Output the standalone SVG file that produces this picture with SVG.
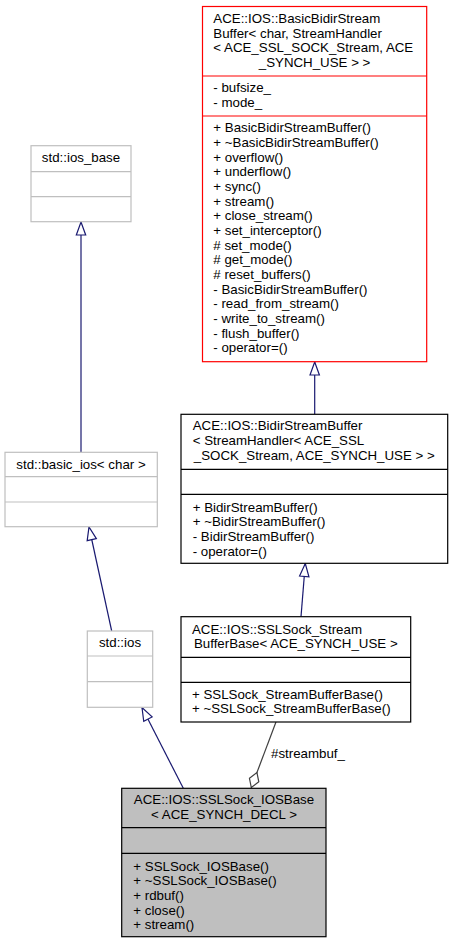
<svg xmlns="http://www.w3.org/2000/svg" width="453" height="944" viewBox="0 0 453 944">
<style>
text{font-family:"Liberation Sans",Arial,Helvetica,sans-serif;font-size:13.3px;fill:#000}
.m{text-anchor:middle}
.box{fill:#fff;stroke:#000;stroke-width:1.2}
.red{fill:#fff;stroke:#ff0000;stroke-width:1.2}
.gray{fill:#fff;stroke:#bfbfbf;stroke-width:1.2}
.cur{fill:#bfbfbf;stroke:#000;stroke-width:1.2}
.sepb{stroke:#000;stroke-width:1.2}
.sepr{stroke:#ff0000;stroke-width:1.2}
.sepg{stroke:#bfbfbf;stroke-width:1.2}
.inh{fill:none;stroke:#191970;stroke-width:1.2;marker-end:url(#tri)}
.agg{fill:none;stroke:#404040;stroke-width:1.2;marker-end:url(#dia)}
</style>
<defs>
<marker id="tri" markerUnits="userSpaceOnUse" markerWidth="16" markerHeight="12" refX="13" refY="6" orient="auto" overflow="visible">
<path d="M0,1.3 L13,6 L0,10.7 z" fill="#fff" stroke="#191970" stroke-width="1.2"/>
</marker>
<marker id="dia" markerUnits="userSpaceOnUse" markerWidth="18" markerHeight="12" refX="16" refY="6" orient="auto" overflow="visible">
<path d="M0,6 L8,1 L16,6 L8,11 z" fill="#fff" stroke="#404040" stroke-width="1.2"/>
</marker>
</defs>
<rect width="453" height="944" fill="#fff"/>
<g id="connectors">
<line class="inh" x1="314.7" y1="414.3" x2="314.7" y2="362"/>
<line class="inh" x1="301" y1="616.7" x2="305.3" y2="563.5"/>
<line class="inh" x1="81" y1="452" x2="81" y2="222"/>
<line class="inh" x1="111.7" y1="631" x2="89" y2="527"/>
<line class="inh" x1="183.3" y1="788.3" x2="142" y2="707.5"/>
<line class="agg" x1="276" y1="722" x2="251.3" y2="787.5"/>
<text x="271" y="757.5">#streambuf_</text>
</g>
<g id="BasicBidirStreamBuffer">
<rect class="red" x="202.5" y="6.5" width="224.2" height="355.2"/>
<line class="sepr" x1="202.5" y1="76" x2="426.7" y2="76"/>
<line class="sepr" x1="202.5" y1="116" x2="426.7" y2="116"/>
<text x="213.3" y="22.8">ACE::IOS::BasicBidirStream</text>
<text x="213.3" y="37.5">Buffer&lt; char, StreamHandler</text>
<text x="213.3" y="52.1">&lt; ACE_SSL_SOCK_Stream, ACE</text>
<text class="m" x="314.6" y="66.8">_SYNCH_USE &gt; &gt;</text>
<text x="213.3" y="92">- bufsize_</text>
<text x="213.3" y="106.6">- mode_</text>
<text x="213.3" y="132.3">+ BasicBidirStreamBuffer()</text>
<text x="213.3" y="147">+ ~BasicBidirStreamBuffer()</text>
<text x="213.3" y="161.6">+ overflow()</text>
<text x="213.3" y="176.3">+ underflow()</text>
<text x="213.3" y="191">+ sync()</text>
<text x="213.3" y="205.6">+ stream()</text>
<text x="213.3" y="220.3">+ close_stream()</text>
<text x="213.3" y="235">+ set_interceptor()</text>
<text x="213.3" y="249.7"># set_mode()</text>
<text x="213.3" y="264.3"># get_mode()</text>
<text x="213.3" y="279"># reset_buffers()</text>
<text x="213.3" y="293.7">- BasicBidirStreamBuffer()</text>
<text x="213.3" y="308.3">- read_from_stream()</text>
<text x="213.3" y="323">- write_to_stream()</text>
<text x="213.3" y="337.7">- flush_buffer()</text>
<text x="213.3" y="352.3">- operator=()</text>
</g>
<g id="BidirStreamBuffer">
<rect class="box" x="181" y="414.3" width="266.7" height="149"/>
<line class="sepb" x1="181" y1="469.3" x2="447.7" y2="469.3"/>
<line class="sepb" x1="181" y1="494.3" x2="447.7" y2="494.3"/>
<text x="192.7" y="430.3">ACE::IOS::BidirStreamBuffer</text>
<text x="192.7" y="445">&lt; StreamHandler&lt; ACE_SSL</text>
<text class="m" x="314.3" y="459.7">_SOCK_Stream, ACE_SYNCH_USE &gt; &gt;</text>
<text x="192.7" y="511.5">+ BidirStreamBuffer()</text>
<text x="192.7" y="526.2">+ ~BidirStreamBuffer()</text>
<text x="192.7" y="540.8">- BidirStreamBuffer()</text>
<text x="192.7" y="555.5">- operator=()</text>
</g>
<g id="SSLSock_StreamBufferBase">
<rect class="box" x="181" y="616.7" width="229.7" height="105.3"/>
<line class="sepb" x1="181" y1="657.3" x2="410.7" y2="657.3"/>
<line class="sepb" x1="181" y1="682.3" x2="410.7" y2="682.3"/>
<text x="192" y="633.5">ACE::IOS::SSLSock_Stream</text>
<text class="m" x="295.8" y="648">BufferBase&lt; ACE_SYNCH_USE &gt;</text>
<text x="192" y="698.5">+ SSLSock_StreamBufferBase()</text>
<text x="192" y="713.2">+ ~SSLSock_StreamBufferBase()</text>
</g>
<g id="ios_base">
<rect class="gray" x="31" y="145.7" width="100" height="76"/>
<line class="sepg" x1="31" y1="171.7" x2="131" y2="171.7"/>
<line class="sepg" x1="31" y1="196.7" x2="131" y2="196.7"/>
<text class="m" x="81" y="161.8">std::ios_base</text>
</g>
<g id="basic_ios">
<rect class="gray" x="5" y="452.3" width="152.3" height="74.4"/>
<line class="sepg" x1="5" y1="476.7" x2="157.3" y2="476.7"/>
<line class="sepg" x1="5" y1="502" x2="157.3" y2="502"/>
<text class="m" x="81" y="468.5">std::basic_ios&lt; char &gt;</text>
</g>
<g id="ios">
<rect class="gray" x="87.3" y="631" width="65.4" height="76.3"/>
<line class="sepg" x1="87.3" y1="656" x2="152.7" y2="656"/>
<line class="sepg" x1="87.3" y1="681.7" x2="152.7" y2="681.7"/>
<text class="m" x="120" y="647.2">std::ios</text>
</g>
<g id="SSLSock_IOSBase">
<rect class="cur" x="121.7" y="788.3" width="204.3" height="148.4"/>
<line class="sepb" x1="121.7" y1="827.7" x2="326" y2="827.7"/>
<line class="sepb" x1="121.7" y1="853.3" x2="326" y2="853.3"/>
<text class="m" x="224" y="803.8">ACE::IOS::SSLSock_IOSBase</text>
<text class="m" x="224" y="818.5">&lt; ACE_SYNCH_DECL &gt;</text>
<text x="133.3" y="870.5">+ SSLSock_IOSBase()</text>
<text x="133.3" y="885.2">+ ~SSLSock_IOSBase()</text>
<text x="133.3" y="899.8">+ rdbuf()</text>
<text x="133.3" y="914.5">+ close()</text>
<text x="133.3" y="929.2">+ stream()</text>
</g>
</svg>
